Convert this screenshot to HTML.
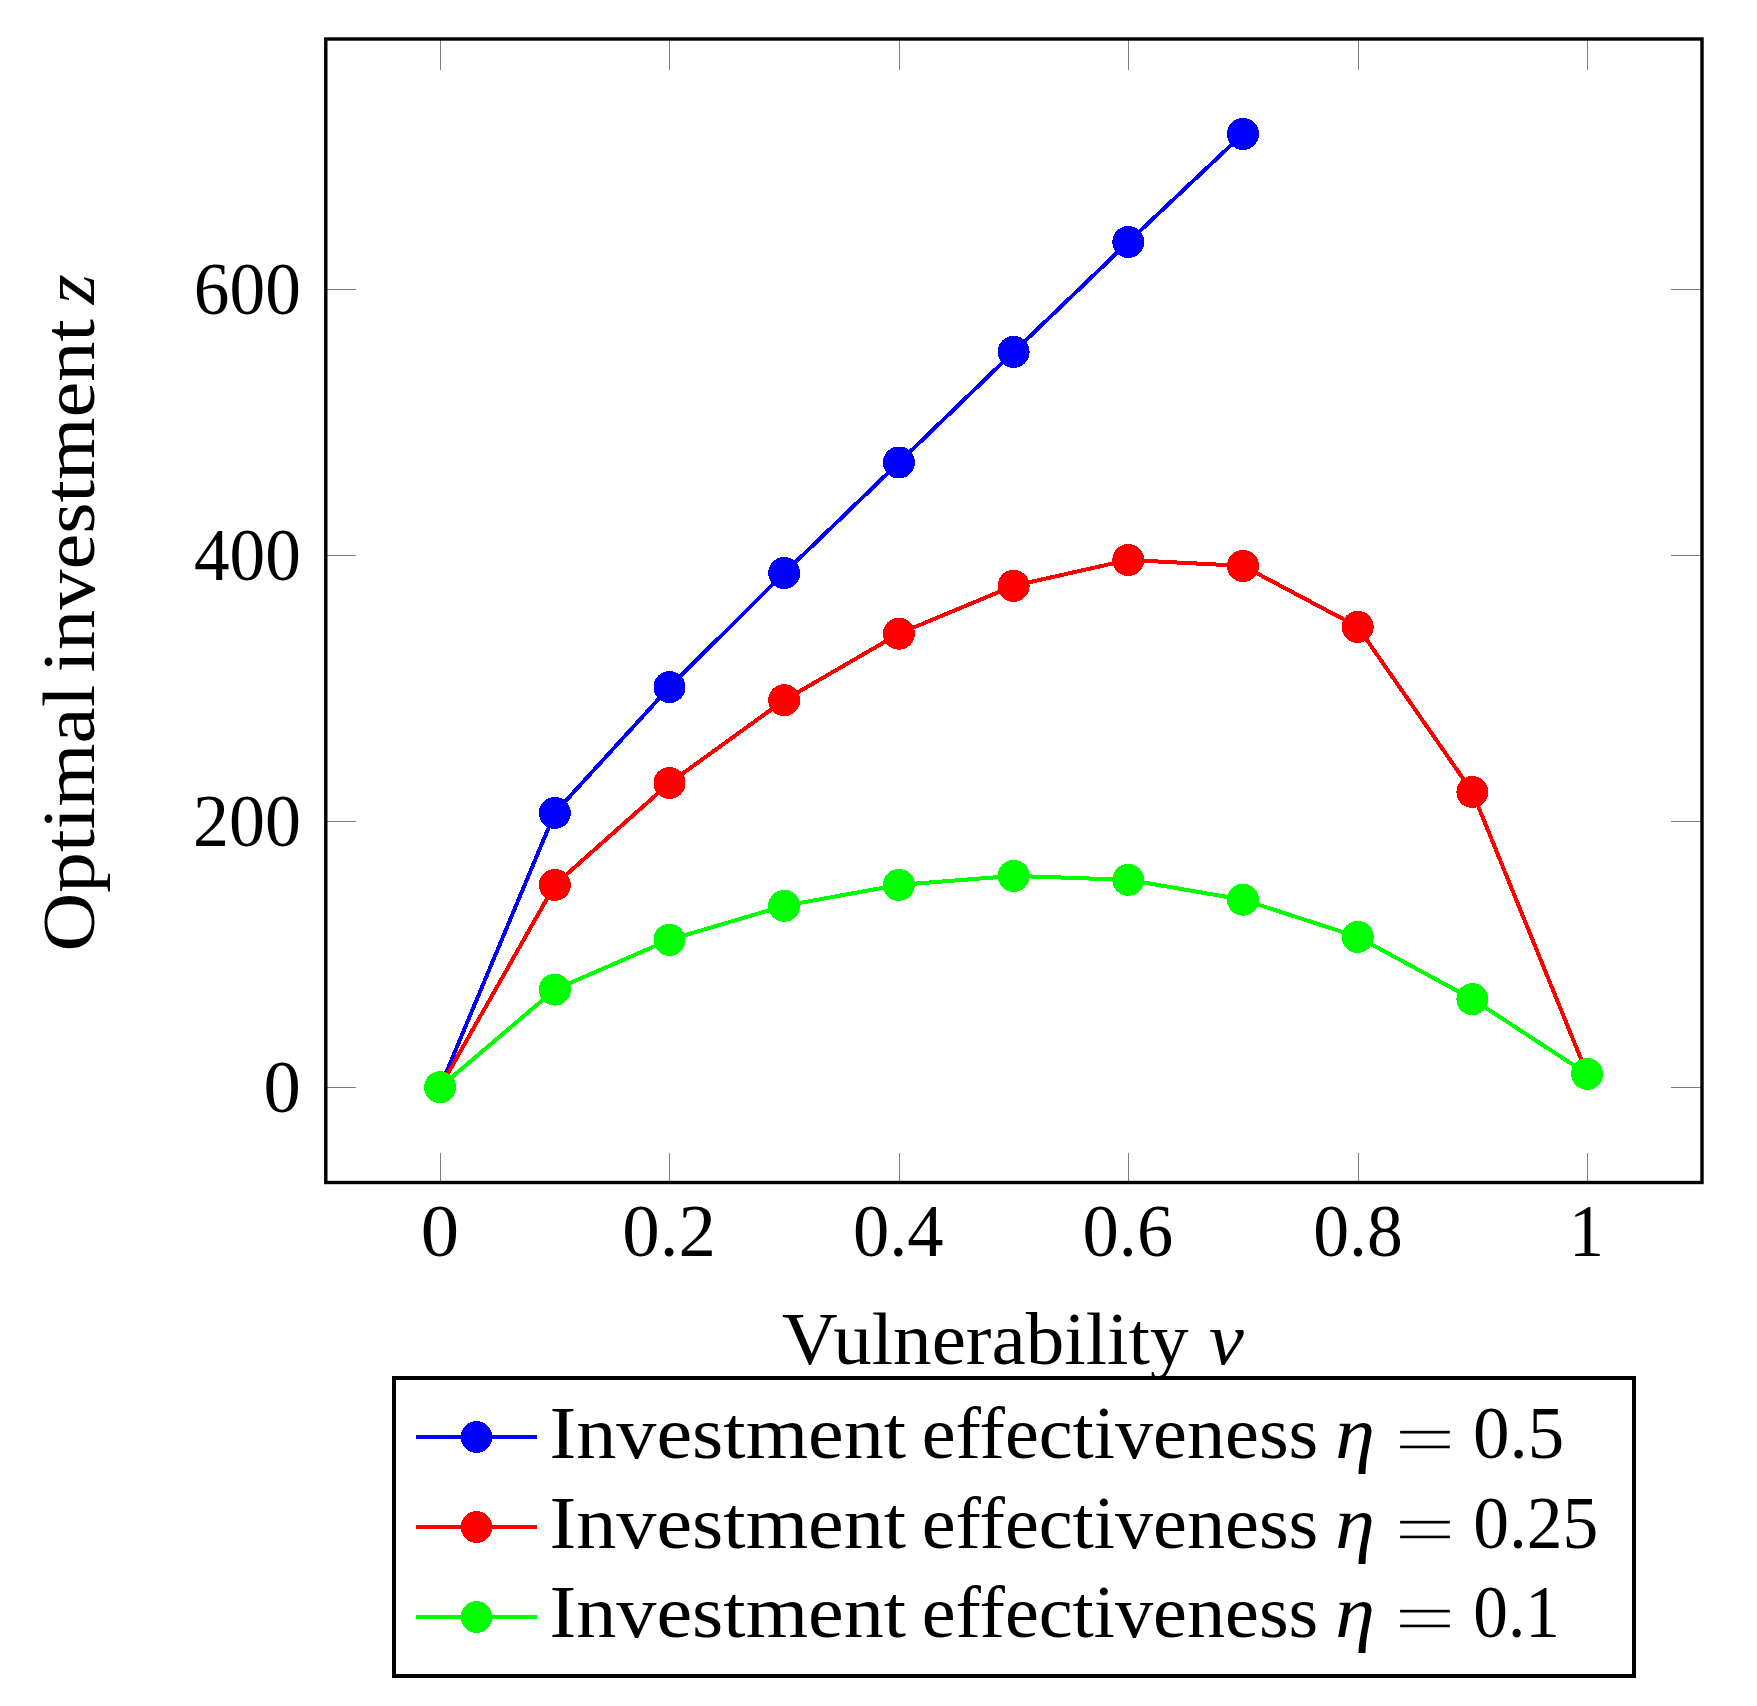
<!DOCTYPE html>
<html lang="en"><head><meta charset="utf-8"><title>Optimal investment vs vulnerability</title>
<style>html,body{margin:0;padding:0;background:#fff}svg{display:block}text{font-family:'Liberation Serif', 'DejaVu Serif', serif;fill:#000}.it{font-style:italic}</style></head><body>
<svg width="1757" height="1706" viewBox="0 0 1757 1706">
<rect x="0" y="0" width="1757" height="1706" fill="#fff"/>
<g stroke="#7f7f7f" stroke-width="1.1" fill="none" shape-rendering="crispEdges">
<line x1="440.5" y1="1182.5" x2="440.5" y2="1152.5"/>
<line x1="440.5" y1="39.0" x2="440.5" y2="70.0"/>
<line x1="669.9" y1="1182.5" x2="669.9" y2="1152.5"/>
<line x1="669.9" y1="39.0" x2="669.9" y2="70.0"/>
<line x1="899.3" y1="1182.5" x2="899.3" y2="1152.5"/>
<line x1="899.3" y1="39.0" x2="899.3" y2="70.0"/>
<line x1="1128.7" y1="1182.5" x2="1128.7" y2="1152.5"/>
<line x1="1128.7" y1="39.0" x2="1128.7" y2="70.0"/>
<line x1="1358.1" y1="1182.5" x2="1358.1" y2="1152.5"/>
<line x1="1358.1" y1="39.0" x2="1358.1" y2="70.0"/>
<line x1="1587.5" y1="1182.5" x2="1587.5" y2="1152.5"/>
<line x1="1587.5" y1="39.0" x2="1587.5" y2="70.0"/>
<line x1="325.8" y1="1087.4" x2="355.8" y2="1087.4"/>
<line x1="1702.0" y1="1087.4" x2="1671.0" y2="1087.4"/>
<line x1="325.8" y1="821.4" x2="355.8" y2="821.4"/>
<line x1="1702.0" y1="821.4" x2="1671.0" y2="821.4"/>
<line x1="325.8" y1="555.3" x2="355.8" y2="555.3"/>
<line x1="1702.0" y1="555.3" x2="1671.0" y2="555.3"/>
<line x1="325.8" y1="289.3" x2="355.8" y2="289.3"/>
<line x1="1702.0" y1="289.3" x2="1671.0" y2="289.3"/>
</g>
<rect x="325.8" y="39.0" width="1376.2" height="1143.5" fill="none" stroke="#000" stroke-width="3.4"/>
<g fill="#0000ff" stroke="none" shape-rendering="crispEdges">
<polyline points="440.1,1087.2 554.8,812.9 669.5,687.1 784.2,573.0 898.9,462.5 1013.6,351.9 1128.3,242.0 1243.0,133.9" fill="none" stroke="#0000ff" stroke-width="4.0" stroke-linejoin="round"/>
<circle cx="440.1" cy="1087.2" r="14.0"/>
<circle cx="554.8" cy="812.9" r="16.0"/>
<circle cx="669.5" cy="687.1" r="16.0"/>
<circle cx="784.2" cy="573.0" r="16.0"/>
<circle cx="898.9" cy="462.5" r="16.0"/>
<circle cx="1013.6" cy="351.9" r="16.0"/>
<circle cx="1128.3" cy="242.0" r="16.0"/>
<circle cx="1243.0" cy="133.9" r="16.0"/>
</g>
<g fill="#ff0000" stroke="none" shape-rendering="crispEdges">
<polyline points="440.1,1087.2 554.8,884.9 669.5,783.0 784.2,700.2 898.9,633.7 1013.6,585.8 1128.3,560.0 1243.0,565.9 1357.7,626.8 1472.4,792.0 1587.1,1073.9" fill="none" stroke="#ff0000" stroke-width="4.0" stroke-linejoin="round"/>
<circle cx="440.1" cy="1087.2" r="14.0"/>
<circle cx="554.8" cy="884.9" r="16.0"/>
<circle cx="669.5" cy="783.0" r="16.0"/>
<circle cx="784.2" cy="700.2" r="16.0"/>
<circle cx="898.9" cy="633.7" r="16.0"/>
<circle cx="1013.6" cy="585.8" r="16.0"/>
<circle cx="1128.3" cy="560.0" r="16.0"/>
<circle cx="1243.0" cy="565.9" r="16.0"/>
<circle cx="1357.7" cy="626.8" r="16.0"/>
<circle cx="1472.4" cy="792.0" r="16.0"/>
<circle cx="1587.1" cy="1073.9" r="14.0"/>
</g>
<g fill="#00ff00" stroke="none" shape-rendering="crispEdges">
<polyline points="440.1,1087.2 554.8,989.6 669.5,939.8 784.2,905.8 898.9,884.9 1013.6,875.9 1128.3,879.8 1243.0,899.7 1357.7,936.9 1472.4,999.1 1587.1,1073.9" fill="none" stroke="#00ff00" stroke-width="4.0" stroke-linejoin="round"/>
<circle cx="440.1" cy="1087.2" r="16.0"/>
<circle cx="554.8" cy="989.6" r="16.0"/>
<circle cx="669.5" cy="939.8" r="16.0"/>
<circle cx="784.2" cy="905.8" r="16.0"/>
<circle cx="898.9" cy="884.9" r="16.0"/>
<circle cx="1013.6" cy="875.9" r="16.0"/>
<circle cx="1128.3" cy="879.8" r="16.0"/>
<circle cx="1243.0" cy="899.7" r="16.0"/>
<circle cx="1357.7" cy="936.9" r="16.0"/>
<circle cx="1472.4" cy="999.1" r="16.0"/>
<circle cx="1587.1" cy="1073.9" r="16.0"/>
</g>
<text y="1112.10" font-size="73"><tspan x="263.63" textLength="37.32" lengthAdjust="spacingAndGlyphs">0</tspan></text>
<text y="846.07" font-size="73"><tspan x="192.94" textLength="107.92" lengthAdjust="spacingAndGlyphs">200</tspan></text>
<text y="580.03" font-size="73"><tspan x="194.02" textLength="106.81" lengthAdjust="spacingAndGlyphs">400</tspan></text>
<text y="314.00" font-size="73"><tspan x="193.87" textLength="106.97" lengthAdjust="spacingAndGlyphs">600</tspan></text>
<text y="1256.20" font-size="73"><tspan x="420.75" textLength="38.27" lengthAdjust="spacingAndGlyphs">0</tspan></text>
<text y="1256.20" font-size="73"><tspan x="622.32" textLength="93.53" lengthAdjust="spacingAndGlyphs">0.2</tspan></text>
<text y="1256.20" font-size="73"><tspan x="852.92" textLength="90.62" lengthAdjust="spacingAndGlyphs">0.4</tspan></text>
<text y="1256.20" font-size="73"><tspan x="1082.62" textLength="90.61" lengthAdjust="spacingAndGlyphs">0.6</tspan></text>
<text y="1256.20" font-size="73"><tspan x="1313.16" textLength="89.55" lengthAdjust="spacingAndGlyphs">0.8</tspan></text>
<text y="1256.20" font-size="73"><tspan x="1568.95" textLength="34.96" lengthAdjust="spacingAndGlyphs">1</tspan></text>
<text y="1364.20" font-size="73"><tspan x="782.14" textLength="406.31" lengthAdjust="spacingAndGlyphs">Vulnerability</tspan> <tspan x="1208.93" textLength="34.81" lengthAdjust="spacingAndGlyphs" class="it">v</tspan></text>
<g transform="translate(94.3,948.2) rotate(-90)">
<text y="0.00" font-size="73"><tspan x="-3.35" textLength="266.84" lengthAdjust="spacingAndGlyphs">Optimal</tspan> <tspan x="275.80" textLength="353.28" lengthAdjust="spacingAndGlyphs">investment</tspan> <tspan x="643.86" textLength="30.05" lengthAdjust="spacingAndGlyphs" class="it">z</tspan></text>
</g>
<rect x="394.0" y="1378.0" width="1240.0" height="298.0" fill="#fff" stroke="#000" stroke-width="4.0"/>
<line x1="416.0" y1="1437.0" x2="537.0" y2="1437.0" stroke="#0000ff" stroke-width="4.0" shape-rendering="crispEdges"/>
<circle cx="476.5" cy="1437.0" r="15.8" fill="#0000ff" shape-rendering="crispEdges"/>
<clipPath id="eq1437"><rect x="540" y="1388.2" width="857" height="100"/><rect x="1455" y="1388.2" width="175" height="100"/><rect x="1397" y="1430.7" width="58" height="2.8"/><rect x="1397" y="1445.4" width="58" height="2.8"/></clipPath>
<text y="1458.20" font-size="73" clip-path="url(#eq1437)"><tspan x="549.50" textLength="356.61" lengthAdjust="spacingAndGlyphs">Investment</tspan> <tspan x="921.67" textLength="396.64" lengthAdjust="spacingAndGlyphs">effectiveness</tspan> <tspan x="1335.32" textLength="39.60" lengthAdjust="spacingAndGlyphs" class="it">&#951;</tspan> <tspan x="1394.84" y="1463.70" textLength="60.30" lengthAdjust="spacingAndGlyphs">=</tspan> <tspan x="1473.10" y="1458.20" textLength="91.14" lengthAdjust="spacingAndGlyphs">0.5</tspan></text>
<line x1="416.0" y1="1527.0" x2="537.0" y2="1527.0" stroke="#ff0000" stroke-width="4.0" shape-rendering="crispEdges"/>
<circle cx="476.5" cy="1527.0" r="15.8" fill="#ff0000" shape-rendering="crispEdges"/>
<clipPath id="eq1527"><rect x="540" y="1478.2" width="857" height="100"/><rect x="1455" y="1478.2" width="175" height="100"/><rect x="1397" y="1520.7" width="58" height="2.8"/><rect x="1397" y="1535.4" width="58" height="2.8"/></clipPath>
<text y="1548.20" font-size="73" clip-path="url(#eq1527)"><tspan x="549.50" textLength="356.61" lengthAdjust="spacingAndGlyphs">Investment</tspan> <tspan x="921.67" textLength="396.64" lengthAdjust="spacingAndGlyphs">effectiveness</tspan> <tspan x="1335.32" textLength="39.60" lengthAdjust="spacingAndGlyphs" class="it">&#951;</tspan> <tspan x="1394.84" y="1553.70" textLength="60.30" lengthAdjust="spacingAndGlyphs">=</tspan> <tspan x="1473.16" y="1548.20" textLength="125.13" lengthAdjust="spacingAndGlyphs">0.25</tspan></text>
<line x1="416.0" y1="1617.0" x2="537.0" y2="1617.0" stroke="#00ff00" stroke-width="4.0" shape-rendering="crispEdges"/>
<circle cx="476.5" cy="1617.0" r="15.8" fill="#00ff00" shape-rendering="crispEdges"/>
<clipPath id="eq1617"><rect x="540" y="1567.2" width="857" height="100"/><rect x="1455" y="1567.2" width="175" height="100"/><rect x="1397" y="1609.7" width="58" height="2.8"/><rect x="1397" y="1624.4" width="58" height="2.8"/></clipPath>
<text y="1637.20" font-size="73" clip-path="url(#eq1617)"><tspan x="549.50" textLength="356.61" lengthAdjust="spacingAndGlyphs">Investment</tspan> <tspan x="921.67" textLength="396.64" lengthAdjust="spacingAndGlyphs">effectiveness</tspan> <tspan x="1335.32" textLength="39.60" lengthAdjust="spacingAndGlyphs" class="it">&#951;</tspan> <tspan x="1394.84" y="1642.70" textLength="60.30" lengthAdjust="spacingAndGlyphs">=</tspan> <tspan x="1473.25" y="1637.20" textLength="86.58" lengthAdjust="spacingAndGlyphs">0.1</tspan></text>
</svg></body></html>
